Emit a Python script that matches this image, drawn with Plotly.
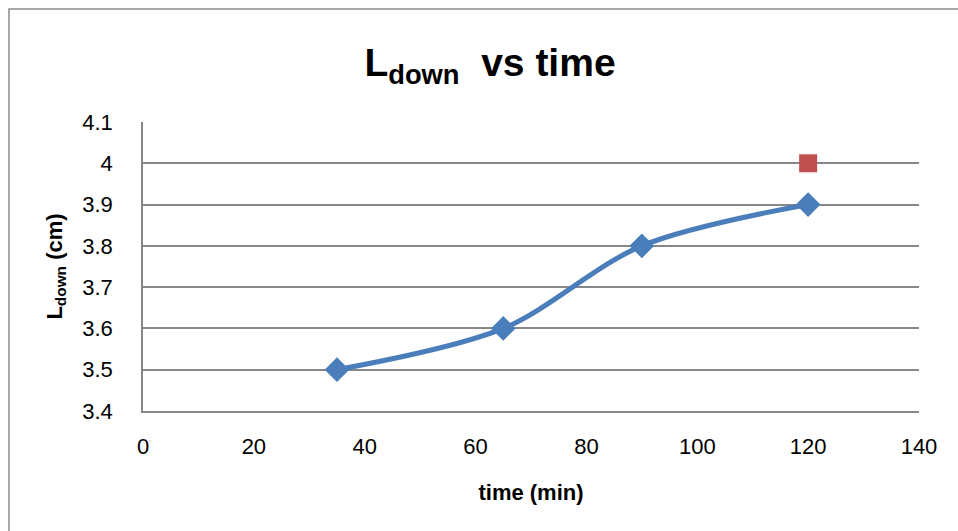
import plotly.graph_objects as go

time_min = [35, 65, 90, 120]
l_down = [3.5, 3.6, 3.8, 3.9]
extra_time = [120]
extra_l = [4.0]

x_ticks = [0, 20, 40, 60, 80, 100, 120, 140]
y_ticks = [3.4, 3.5, 3.6, 3.7, 3.8, 3.9, 4.0, 4.1]
y_tick_text = ["3.4", "3.5", "3.6", "3.7", "3.8", "3.9", "4", "4.1"]

W, H = 958, 531
L, R, T, B = 143, 39, 122, 120
pw, ph = W - L - R, H - T - B

fig = go.Figure()
fig.add_trace(go.Scatter(
    x=time_min, y=l_down, mode="lines+markers",
    line=dict(color="#4a7ebb", width=5, shape="spline", smoothing=0.9),
    marker=dict(symbol="diamond", size=19, color="#4a7ebb"),
    showlegend=False,
))
fig.add_trace(go.Scatter(
    x=extra_time, y=extra_l, mode="markers",
    marker=dict(symbol="square", size=18, color="#c0504d"),
    showlegend=False,
))

font_family = "Liberation Sans"
fig.update_layout(
    width=W, height=H,
    margin=dict(l=L, r=R, t=T, b=B),
    paper_bgcolor="white", plot_bgcolor="white",
    font=dict(family=font_family, color="black"),
    title=dict(
        text="<b>L<sub>down</sub>  vs time</b>",
        x=490 / W, xanchor="center", y=1 - 62 / H, yanchor="middle",
        font=dict(size=39, family=font_family, color="black"),
    ),
    xaxis=dict(
        range=[0, 140], tickvals=x_ticks, ticktext=[str(v) for v in x_ticks],
        showgrid=False, zeroline=False, showline=True, linecolor="#878787", linewidth=1.5,
        ticks="", tickfont=dict(size=22), ticklabelstandoff=15,
        title=dict(text="<b>time (min)</b>", font=dict(size=22), standoff=26),
    ),
    yaxis=dict(
        range=[3.4, 4.1], tickvals=y_ticks, ticktext=y_tick_text,
        showgrid=True, gridcolor="#878787", gridwidth=1.5,
        zeroline=False, showline=True, linecolor="#878787", linewidth=1.5,
        ticks="", tickfont=dict(size=22), ticklabelstandoff=24,
        title=dict(text="<b>L<sub>down</sub> (cm)</b>", font=dict(size=22), standoff=14),
    ),
    shapes=[dict(
        type="rect", xref="paper", yref="paper",
        x0=(9 - L) / pw, x1=(W + 5 - L) / pw,
        y0=-(B + 5) / ph, y1=1 + (T - 9) / ph,
        line=dict(color="#8c8c8c", width=1.5), fillcolor="rgba(0,0,0,0)", layer="below",
    )],
)

fig.write_html("out.html")
